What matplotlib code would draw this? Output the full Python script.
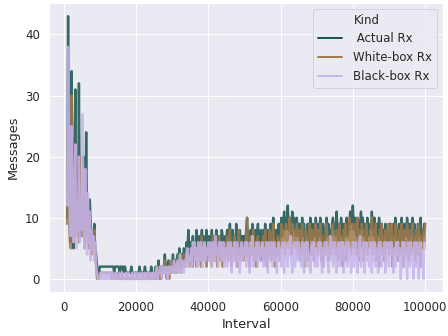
import numpy as np
import matplotlib
matplotlib.use("Agg")
import matplotlib.pyplot as plt
import seaborn as sns
from matplotlib.lines import Line2D

actual_rx = [
    10, 43, 12, 8, 6, 34, 9, 5, 14, 31, 7, 11, 8, 32, 10, 7,
    12, 9, 20, 6, 8, 24, 7, 10, 6, 13, 9, 5, 8, 6, 9, 5, 4, 2, 0, 0,
    2, 2, 2, 2, 2, 2, 2, 2, 2, 2, 2, 2, 2, 2, 2, 2, 1, 2, 2, 2,
    2, 2, 1, 2, 2, 2, 1, 2, 2, 1, 1, 1, 1, 1, 1, 2, 1, 1, 1, 1,
    1, 1, 1, 1, 2, 1, 1, 1, 1, 1, 2, 1, 1, 1, 1, 1, 1, 2, 1, 1,
    1, 1, 2, 1, 1, 3, 1, 1, 2, 1, 1, 2, 4, 2, 1, 2, 3, 1, 2, 1,
    2, 4, 2, 3, 2, 3, 4, 2, 5, 3, 2, 4, 3, 5, 4, 3, 6, 4, 8, 5,
    4, 6, 5, 7, 4, 6, 5, 8, 6, 4, 7, 5, 6, 8, 5, 7, 6, 4, 8, 6,
    5, 7, 6, 4, 8, 5, 6, 7, 5, 8, 6, 4, 7, 5, 6, 8, 7, 5, 6, 7,
    6, 8, 5, 7, 9, 6, 5, 8, 6, 7, 5, 9, 6, 4, 7, 8, 6, 5, 7, 6,
    7, 5, 8, 10, 6, 7, 5, 8, 6, 9, 7, 5, 8, 6, 7, 9, 5, 6, 8, 7,
    6, 8, 5, 9, 7, 6, 8, 5, 7, 9, 6, 8, 10, 7, 6, 8, 5, 7, 9, 6,
    8, 10, 7, 9, 11, 8, 10, 9, 12, 8, 10, 9, 7, 11, 8, 10, 9, 7, 10, 8,
    7, 9, 6, 8, 10, 7, 9, 6, 8, 7, 9, 5, 8, 10, 7, 6, 9, 8, 7, 10,
    8, 6, 9, 7, 10, 8, 6, 9, 7, 5, 8, 10, 7, 9, 6, 8, 7, 9, 10, 8,
    9, 7, 11, 8, 6, 9, 7, 10, 8, 6, 9, 7, 8, 10, 7, 9, 8, 11, 9, 10,
    12, 8, 10, 9, 7, 10, 8, 6, 9, 11, 8, 10, 7, 9, 8, 6, 10, 8, 7, 9,
    8, 11, 9, 7, 10, 8, 6, 9, 7, 10, 8, 6, 9, 5, 8, 7, 9, 6, 8, 7,
    6, 9, 7, 8, 5, 9, 7, 10, 6, 8, 7, 9, 5, 8, 10, 7, 6, 9, 8, 7,
    10, 8, 6, 9, 7, 8, 10, 6, 9, 7, 8, 6, 9, 7, 8, 10, 6, 8, 7, 9,
    9,
]

white_box_rx = [
    9, 25, 10, 6, 5, 30, 8, 6, 12, 22, 7, 9, 16, 6, 20, 9,
    10, 7, 18, 5, 7, 14, 6, 9, 5, 10, 8, 4, 7, 5, 8, 4, 2, 0, 0, 0,
    1, 1, 1, 1, 1, 1, 1, 1, 1, 1, 1, 1, 1, 0, 1, 1, 0, 0, 1, 0,
    0, 1, 0, 0, 0, 1, 0, 0, 0, 0, 1, 0, 0, 0, 0, 0, 1, 0, 0, 0,
    0, 0, 1, 0, 0, 0, 0, 1, 0, 0, 0, 0, 1, 0, 0, 1, 0, 0, 0, 1,
    0, 1, 0, 0, 1, 2, 0, 1, 0, 1, 2, 1, 3, 1, 0, 2, 1, 0, 3, 1,
    1, 2, 3, 1, 2, 3, 1, 4, 2, 3, 1, 3, 2, 4, 3, 2, 5, 3, 4, 2,
    3, 5, 4, 2, 6, 3, 5, 2, 4, 6, 3, 5, 2, 7, 4, 3, 6, 5, 2, 4,
    5, 3, 6, 4, 2, 7, 5, 3, 6, 4, 2, 5, 7, 3, 4, 6, 2, 5, 3, 6,
    4, 7, 3, 5, 8, 4, 2, 6, 4, 7, 3, 5, 2, 6, 8, 4, 3, 6, 5, 3,
    6, 4, 7, 10, 3, 5, 2, 7, 4, 6, 8, 3, 5, 2, 6, 7, 4, 5, 3, 6,
    4, 7, 3, 8, 5, 2, 6, 4, 8, 5, 3, 7, 9, 4, 2, 6, 4, 7, 5, 3,
    6, 9, 5, 8, 7, 4, 9, 6, 8, 5, 10, 7, 4, 9, 6, 8, 5, 7, 9, 4,
    5, 8, 3, 7, 9, 4, 6, 2, 8, 5, 7, 3, 9, 6, 4, 8, 5, 3, 7, 9,
    6, 4, 8, 5, 9, 3, 7, 2, 6, 4, 8, 9, 5, 3, 7, 6, 4, 8, 9, 5,
    7, 4, 8, 6, 3, 9, 5, 7, 4, 2, 8, 6, 9, 3, 7, 5, 10, 6, 4, 9,
    8, 5, 9, 6, 4, 10, 7, 3, 8, 5, 9, 6, 3, 8, 5, 9, 4, 7, 5, 8,
    6, 10, 4, 8, 5, 9, 3, 7, 6, 2, 8, 5, 9, 4, 7, 3, 8, 6, 5, 9,
    4, 8, 5, 9, 2, 7, 4, 9, 5, 6, 3, 8, 4, 7, 9, 5, 2, 8, 6, 4,
    9, 5, 3, 8, 6, 4, 9, 5, 7, 3, 8, 6, 4, 9, 5, 2, 7, 5, 8, 6,
    9,
]

black_box_rx = [
    12, 38, 20, 8, 7, 25, 10, 6, 16, 22, 5, 12, 8, 20, 6, 9,
    8, 27, 12, 5, 18, 9, 4, 14, 6, 11, 3, 8, 5, 7, 3, 6, 2, 1, 0, 0,
    0, 1, 0, 0, 1, 0, 1, 0, 0, 1, 0, 0, 1, 0, 0, 1, 0, 0, 1, 0,
    0, 0, 1, 0, 0, 1, 0, 0, 0, 1, 0, 0, 1, 0, 0, 0, 1, 0, 0, 1,
    0, 1, 0, 0, 1, 0, 0, 1, 0, 0, 1, 0, 0, 1, 0, 1, 0, 0, 1, 0,
    1, 0, 1, 2, 0, 1, 1, 2, 1, 0, 2, 1, 1, 2, 1, 0, 2, 1, 2, 1,
    2, 1, 3, 2, 1, 2, 3, 1, 2, 4, 1, 3, 2, 1, 3, 2, 4, 5, 2, 3,
    3, 5, 2, 6, 4, 6, 3, 5, 2, 6, 4, 3, 6, 5, 2, 4, 6, 3, 5, 4,
    6, 3, 5, 6, 2, 4, 6, 3, 7, 4, 5, 2, 6, 4, 6, 3, 5, 6, 2, 4,
    5, 2, 6, 4, 3, 6, 1, 5, 3, 6, 4, 2, 6, 3, 5, 1, 4, 6, 3, 5,
    4, 6, 2, 6, 3, 5, 1, 6, 4, 7, 2, 5, 3, 6, 4, 2, 6, 3, 5, 4,
    6, 2, 5, 3, 6, 4, 1, 6, 3, 5, 6, 2, 4, 6, 3, 5, 1, 4, 6, 3,
    5, 2, 6, 4, 1, 6, 3, 5, 2, 6, 4, 7, 3, 1, 5, 6, 2, 4, 6, 3,
    6, 3, 5, 2, 6, 4, 1, 5, 6, 3, 6, 2, 4, 1, 5, 6, 3, 6, 2, 4,
    5, 2, 6, 4, 6, 3, 1, 5, 2, 6, 4, 6, 3, 1, 5, 7, 3, 6, 2, 4,
    6, 3, 1, 5, 6, 2, 4, 6, 3, 6, 1, 5, 4, 6, 2, 6, 3, 5, 1, 4,
    6, 2, 5, 6, 3, 1, 4, 6, 7, 2, 5, 3, 6, 1, 4, 6, 3, 5, 2, 6,
    4, 1, 6, 3, 6, 2, 5, 4, 1, 6, 3, 6, 2, 5, 4, 6, 1, 3, 6, 5,
    2, 6, 4, 6, 3, 1, 5, 2, 6, 4, 6, 3, 5, 0, 4, 6, 2, 6, 3, 5,
    0, 6, 4, 2, 6, 3, 5, 0, 6, 4, 2, 6, 3, 0, 5, 6, 2, 4, 0, 6,
    5,
]

intervals = list(range(1000, 100001, 250))

kinds = [" Actual Rx", "White-box Rx", "Black-box Rx"]
series = [actual_rx, white_box_rx, black_box_rx]
x_ticks = [0, 20000, 40000, 60000, 80000, 100000]
y_ticks = [0, 10, 20, 30, 40]

sns.set_theme(style="darkgrid", font_scale=1.1)
colors = sns.color_palette("cubehelix", 3)

fig, ax = plt.subplots(figsize=(6.4, 4.8), dpi=70)
fig.subplots_adjust(left=0.11, right=0.989, bottom=0.131, top=0.991)

for kind, vals, col in zip(kinds, series, colors):
    ax.plot(intervals, vals, color=col, lw=2.5, alpha=0.85, label=kind)

ax.set_xlabel("Interval")
ax.set_ylabel("Messages", labelpad=6)
ax.set_xticks(x_ticks)
ax.set_yticks(y_ticks)

handles = [Line2D([], [], linestyle="none")] + [Line2D([], [], color=c, lw=2.0) for c in colors]
labels = ["Kind"] + kinds
ax.legend(handles, labels, loc="upper right", handletextpad=1.0)

fig.savefig("out.png", dpi=70)
